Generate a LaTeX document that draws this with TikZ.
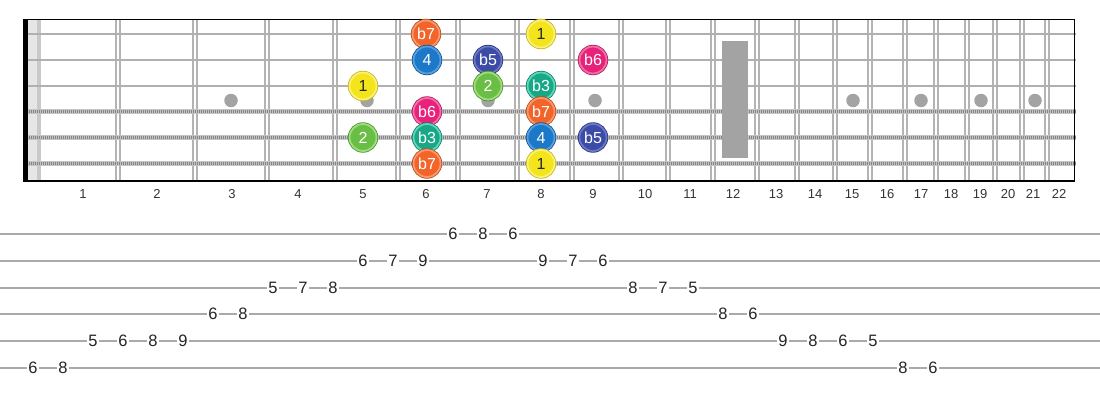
\documentclass[tikz,border=0pt]{standalone}
\usepackage{fontspec}
\setmainfont{Liberation Sans}
\usetikzlibrary{calc}
\definecolor{fretgray}{HTML}{B4B4B4}
\definecolor{strgray}{HTML}{B0B0B0}
\definecolor{woundlight}{HTML}{C4C4C4}
\definecolor{wounddark}{HTML}{858585}
\definecolor{inlaygray}{HTML}{A3A3A3}
\definecolor{labelgray}{HTML}{333333}
\definecolor{tabgray}{HTML}{AAAAAA}
\definecolor{nutlight}{HTML}{E6E6E6}
\definecolor{nutmid}{HTML}{C9C9C9}
\definecolor{cOne}{HTML}{F3E41C}\definecolor{cOneL}{HTML}{FAF07A}
\definecolor{cSev}{HTML}{F2642A}\definecolor{cSevL}{HTML}{F79A6B}
\definecolor{cFour}{HTML}{1E78C8}\definecolor{cFourL}{HTML}{559FE2}
\definecolor{cFive}{HTML}{3B4BA6}\definecolor{cFiveL}{HTML}{6A78C8}
\definecolor{cSix}{HTML}{E8217A}\definecolor{cSixL}{HTML}{F270A6}
\definecolor{cTwo}{HTML}{6BBE45}\definecolor{cTwoL}{HTML}{9BE07A}
\definecolor{cThree}{HTML}{18A888}\definecolor{cThreeL}{HTML}{5ED6B8}
\tikzset{
  fretwire/.style={draw=fretgray, line width=1.5pt},
  plainstr/.style={draw=strgray, line width=2.8pt},
  woundbase/.style={draw=woundlight, line width=4.2pt},
  woundtex/.style={draw=wounddark, line width=3.2pt, dash pattern=on 0.9pt off 1.1pt},
  inlay/.style={circle, fill=inlaygray, minimum size=13.5pt, inner sep=0pt},
  note/.style={circle, minimum size=27pt, inner sep=0pt, line width=1.8pt,
    font=\fontsize{16}{16}\selectfont, text=white},
  deg1/.style={note, fill=cOne, draw=cOneL, text=black!85, preaction={draw=cOne!80!black, line width=3.4pt}},
  degb7/.style={note, fill=cSev, draw=cSevL, preaction={draw=cSev!75!black, line width=3.4pt}},
  deg4/.style={note, fill=cFour, draw=cFourL, preaction={draw=cFour!70!black, line width=3.4pt}},
  degb5/.style={note, fill=cFive, draw=cFiveL, preaction={draw=cFive!70!black, line width=3.4pt}},
  degb6/.style={note, fill=cSix, draw=cSixL, preaction={draw=cSix!75!black, line width=3.4pt}},
  deg2/.style={note, fill=cTwo, draw=cTwoL, preaction={draw=cTwo!75!black, line width=3.4pt}},
  degb3/.style={note, fill=cThree, draw=cThreeL, preaction={draw=cThree!75!black, line width=3.4pt}},
  fretlbl/.style={font=\fontsize{13}{13}\selectfont, text=labelgray},
  tabline/.style={draw=tabgray, line width=2pt},
  tabnum/.style={font=\fontsize{16.5}{16.5}\selectfont, fill=white, inner sep=1.8pt, text=black!85},
}
\begin{document}
\begin{tikzpicture}[x=1pt,y=-1pt]
\useasboundingbox (0,0) rectangle (1100,400);
% nut
\fill[nutlight] (28,19.5) rectangle (37,181);
\fill[nutmid] (37,19.5) rectangle (41,181);
% fret wires
\foreach \x in {118,195,267,335,398,458,517,572,621,668,713,757,797,835,870,905,936,967,995,1022,1047}{
  \draw[fretwire] (\x-1.9,19.5) -- (\x-1.9,181);
  \draw[fretwire] (\x+1.9,19.5) -- (\x+1.9,181);
}
% inlays
\foreach \x in {231,367,488,595,853,921,981,1035}{
  \node[inlay] (dot\x) at (\x,100.5) {};
}
% strings
\foreach \y in {34,60,86}{
  \draw[plainstr] (23,\y) -- (1076,\y);
}
\foreach \y in {111.5,137.5,163.5}{
  \draw[woundbase] (23,\y) -- (1076,\y);
  \draw[woundtex] (23,\y) -- (1076,\y);
}
% 12th fret marker
\fill[inlaygray] (722,41) rectangle (748,158);
% border
\draw[black, line width=1.5pt] (23,19.5) -- (1075,19.5);
\draw[black, line width=1.5pt] (23,181) -- (1075,181);
\draw[black, line width=1.3pt] (1074.5,19.5) -- (1074.5,181);
\fill[black] (23,18.75) rectangle (27.5,181.75);
% fret labels
\foreach \n/\x in {1/83,2/157,3/232,4/298,5/363,6/426,7/487,8/541,9/593,10/645,11/690,12/733,13/776,14/815,15/852,16/887,17/921,18/951,19/980,20/1008,21/1033,22/1059}{
  \node[fretlbl] (fl\n) at (\x,194) {\n};
}
% notes
\node[degb7] (s1a) at (426,34) {b7};
\node[deg1]  (s1b) at (541,34) {1};
\node[deg4]  (s2a) at (427,60) {4};
\node[degb5] (s2b) at (488,60) {b5};
\node[degb6] (s2c) at (593,60) {b6};
\node[deg1]  (s3a) at (363,86) {1};
\node[deg2]  (s3b) at (488,86) {2};
\node[degb3] (s3c) at (541,86) {b3};
\node[degb6] (s4a) at (427,111.5) {b6};
\node[degb7] (s4b) at (541,111.5) {b7};
\node[deg2]  (s5a) at (363,137.5) {2};
\node[degb3] (s5b) at (427,137.5) {b3};
\node[deg4]  (s5c) at (541,137.5) {4};
\node[degb5] (s5d) at (593,137.5) {b5};
\node[degb7] (s6a) at (427,163.5) {b7};
\node[deg1]  (s6b) at (541,163.5) {1};
% tab lines
\foreach \i/\y in {1/234,2/261,3/287.5,4/314,5/341,6/367.5}{
  \coordinate (tl\i) at (0,\y);
  \coordinate (tr\i) at (1100,\y);
  \draw[tabline] (tl\i) -- (tr\i);
}
% tab numbers: x = 33 + 30 i
\foreach \i/\s/\v in {0/6/6,1/6/8,2/5/5,3/5/6,4/5/8,5/5/9,6/4/6,7/4/8,8/3/5,9/3/7,10/3/8,11/2/6,12/2/7,13/2/9,14/1/6,15/1/8,16/1/6,17/2/9,18/2/7,19/2/6,20/3/8,21/3/7,22/3/5,23/4/8,24/4/6,25/5/9,26/5/8,27/5/6,28/5/5,29/6/8,30/6/6}{
  \node[tabnum] (tn\i) at ($(tl\s)+({33+30*\i},0)$) {\v};
}
\end{tikzpicture}
\end{document}
